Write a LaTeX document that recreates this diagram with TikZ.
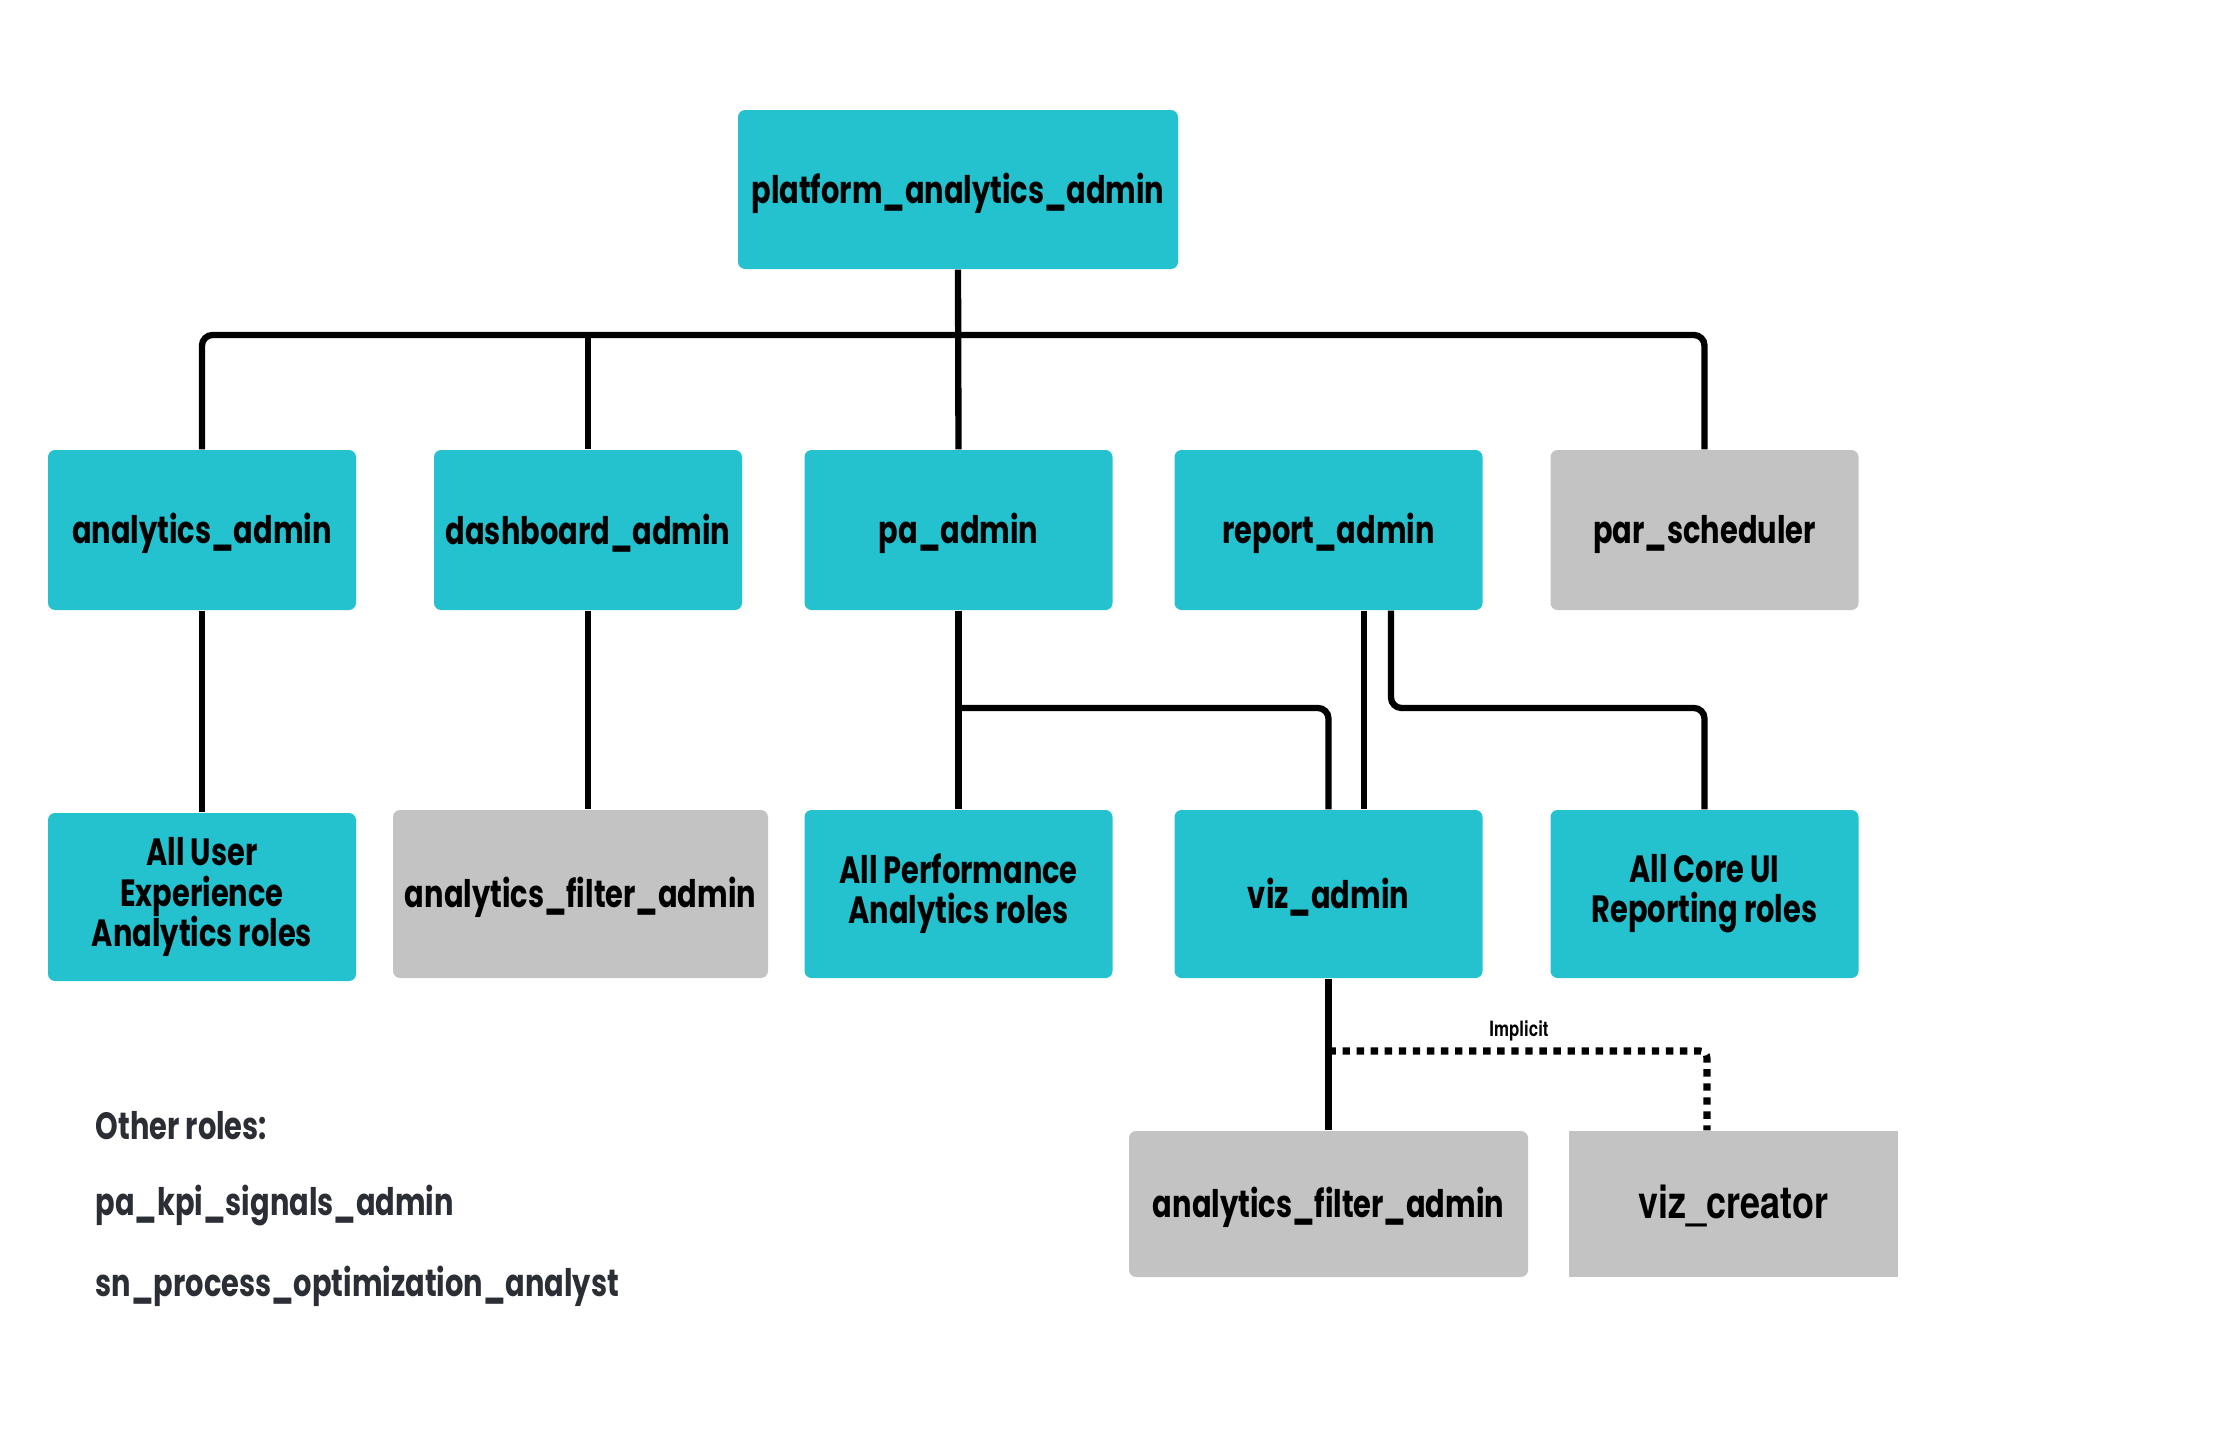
\documentclass[tikz,border=0pt]{standalone}
\usepackage{fontspec}
\usepackage{tikz}
\usetikzlibrary{positioning, calc}
\newfontfamily\gothic{Poppins}[FakeStretch=0.76]
\newfontfamily\helvb{TeX Gyre Heros}[FakeStretch=0.8]
\newcommand\tightlines{\lineskiplimit-20pt\relax}
\definecolor{roleTeal}{RGB}{36, 193, 206}
\definecolor{roleGrey}{RGB}{195, 195, 195}
\definecolor{noteInk}{RGB}{43, 46, 52}

\begin{document}
\begin{tikzpicture}[
          role/.style={fill=roleTeal, rounded corners=2pt, minimum width=3.08cm,
                     minimum height=1.60cm, align=center, inner sep=0pt,
                     font=\gothic\bfseries\fontsize{10.8}{11.4}\selectfont\tightlines,
                     execute at begin node={\rule{0pt}{10.6pt}}},
          greyrole/.style={role, fill=roleGrey},
          ln/.style={line width=1.8pt, rounded corners=3pt},
          dot/.style={line width=2pt, dash pattern=on 2.1pt off 1.9pt, rounded corners=2pt},
          note/.style={anchor=west, inner sep=0pt, text=noteInk, font=\gothic\bfseries\fontsize{10.8}{11.4}\selectfont}]
        \useasboundingbox (0,0) rectangle (22.33,-14.40);
        % top
        \node[role, minimum width=4.40cm, minimum height=1.59cm] (top) at (9.58,-1.895) {platform\_analytics\_admin};
        % second row
        \node[role] (aa) at (2.02,-5.30) {analytics\_admin};
        \node[role] (da) at (5.88,-5.30) {dashboard\_admin};
        \node[role] (pa) at (9.585,-5.30) {pa\_admin};
        \node[role] (ra) at (13.285,-5.30) {report\_admin};
        \node[greyrole] (ps) at (17.045,-5.30) {par\_scheduler};
        % third row
        \node[role, minimum height=1.68cm] (ux) at (2.02,-8.97) {All User\\Experience\\Analytics roles};
        \node[greyrole, minimum width=3.75cm, minimum height=1.68cm] (fa) at (5.805,-8.94) {analytics\_filter\_admin};
        \node[role, minimum height=1.68cm] (perf) at (9.585,-8.94) {All Performance\\Analytics roles};
        \node[role, minimum height=1.68cm] (viz) at (13.285,-8.94) {viz\_admin};
        \node[role, minimum height=1.68cm] (core) at (17.045,-8.94) {All Core UI\\Reporting roles};
        % fourth row
        \node[greyrole, minimum width=3.99cm, minimum height=1.46cm] (fb) at (13.285,-12.04) {analytics\_filter\_admin};
        \node[greyrole, rounded corners=0pt, minimum width=3.29cm, minimum height=1.46cm,
              font=\helvb\bfseries\fontsize{12.8}{12.8}\selectfont] (vc) at (17.335,-12.04) {viz\_creator};

        \coordinate (bus) at (0,-3.35);
        \coordinate (branch) at (0,-7.08);
        \coordinate (dotrow) at (0,-10.51);

        \draw[ln] (aa.north) |- (bus -| ps.north) -- (ps.north);
        \draw[ln] (top.south) -- (pa.north);
        \draw[ln] (da.north) -- (da.north |- bus);
        \draw[ln] (aa.south) -- (ux.north);
        \draw[ln] (da.south) -- (da.south |- fa.north);
        \draw[ln] (pa.south) -- (perf.north);
        \draw[ln] (pa.south |- branch) -| (viz.north);
        \draw[ln] ([xshift=3.55mm]ra.south) -- ([xshift=3.55mm]ra.south |- viz.north);
        \draw[ln] ([xshift=6.25mm]ra.south) |- (branch -| core.north) -- (core.north);
        \draw[ln] (viz.south) -- (fb.north);
        \draw[dot] (viz.south |- dotrow) -| ([xshift=-2.65mm]vc.north);
        \node[font=\helvb\bfseries\fontsize{6}{6}\selectfont] (impl) at (15.19,-10.31) {Implicit};

        % other roles
        \node[note] (other) at (0.95,-11.26) {Other roles:};
        \node[note] (kpi) at (0.95,-12.06) {pa\_kpi\_signals\_admin};
        \node[note] (spo) at (0.95,-12.86) {sn\_process\_optimization\_analyst};
      \end{tikzpicture}
\end{document}
